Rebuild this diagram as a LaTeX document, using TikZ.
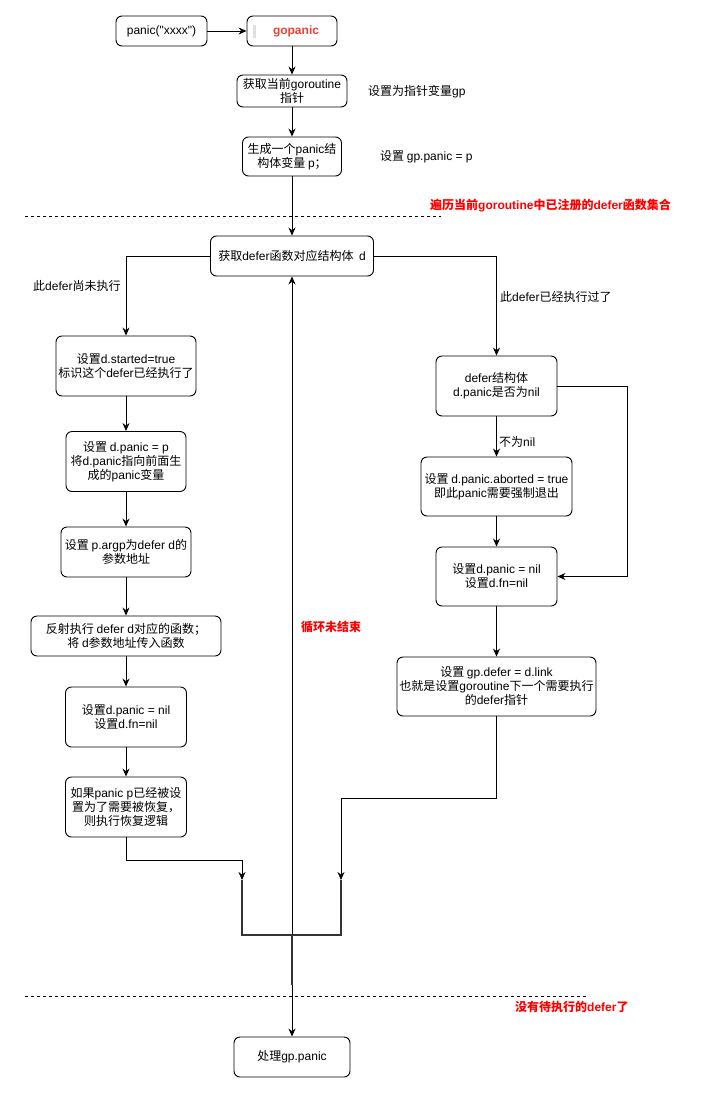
\documentclass[tikz,border=0pt]{standalone}
\usepackage{fontspec}
\setmainfont{Liberation Sans}
\newfontfamily\cjkfam{Noto Sans CJK SC}
\newfontfamily\latfam{Liberation Sans}
\XeTeXinterchartokenstate=1
\newXeTeXintercharclass\cjkcls
\makeatletter
\count@="3000
\loop\XeTeXcharclass\count@=\cjkcls\ifnum\count@<"303F \advance\count@ 1 \repeat
\count@="4E00
\loop\XeTeXcharclass\count@=\cjkcls\ifnum\count@<"9FFF \advance\count@ 1 \repeat
\count@="FF00
\loop\XeTeXcharclass\count@=\cjkcls\ifnum\count@<"FFEF \advance\count@ 1 \repeat
\makeatother
\XeTeXinterchartoks 0 \cjkcls = {\cjkfam}
\XeTeXinterchartoks 4095 \cjkcls = {\cjkfam}
\XeTeXinterchartoks \cjkcls 0 = {\latfam}
\XeTeXinterchartoks 4095 0 = {\latfam}
\newcommand\fs{\fontsize{12}{14}\selectfont}
\definecolor{gored}{RGB}{234,67,53}
\usetikzlibrary{arrows.meta}
\begin{document}
\begin{tikzpicture}[x=1pt,y=-1pt,
  box/.style={draw, rounded corners=6pt, line width=0.9pt, align=center, inner sep=0pt, font=\fs},
  lab/.style={font=\fs, inner sep=0pt, anchor=west},
  redlab/.style={font=\fs\bfseries, text=red, inner sep=0pt, anchor=west},
  arr/.style={-{Stealth[length=8pt,width=7pt]}, line width=0.9pt},
  dline/.style={line width=0.8pt, dash pattern=on 3pt off 3pt},
  brk/.style={line width=2.5pt, draw=black!80}
]
\useasboundingbox (0,0) rectangle (723,1093);

% top chain
\node[box, minimum width=91pt, minimum height=30pt] (panic) at (161.5,31) {panic("xxxx")};
\node[box, minimum width=90pt, minimum height=30pt, text=gored, font=\fs\bfseries] (gopanic) at (292,31) {\hspace{8pt}gopanic};
\fill[gray!25] (253,25) rectangle (256,38);
\node[box, minimum width=110pt, minimum height=32pt] (gor) at (292,91) {获取当前goroutine\\指针};
\node[lab] (gorlab) at (368,92) {设置为指针变量gp};
\node[box, minimum width=99pt, minimum height=39pt] (genp) at (292,156.5) {生成一个panic结\\构体变量 p；};
\node[lab] (genplab) at (380,157) {设置 gp.panic = p};

\draw[dline] (25,216) -- (441,216);
\node[redlab] (loopall) at (430,206) {遍历当前goroutine中已注册的defer函数集合};

\node[box, minimum width=163pt, minimum height=40pt] (getd) at (292,256) {获取defer函数对应结构体\ \ d};

% left column
\node[box, minimum width=140pt, minimum height=60pt] (L1) at (126,366) {设置d.started=true\\标识这个defer已经执行了};
\node[box, minimum width=120pt, minimum height=60pt] (L2) at (126,461.5) {设置 d.panic = p\\将d.panic指向前面生\\成的panic变量};
\node[box, minimum width=130pt, minimum height=50pt] (L3) at (126,552) {设置 p.argp为defer d的\\参数地址};
\node[box, minimum width=190pt, minimum height=40pt] (L4) at (126,636) {反射执行 defer d对应的函数；\\将 d参数地址传入函数};
\node[box, minimum width=121pt, minimum height=60pt] (L5) at (126,717) {设置d.panic = nil\\设置d.fn=nil};
\node[box, minimum width=121pt, minimum height=60pt] (L6) at (126,807) {如果panic p已经被设\\置为了需要被恢复，\\则执行恢复逻辑};
\node[lab] (llab) at (33,286) {此defer尚未执行};

% right column
\node[box, minimum width=121pt, minimum height=60pt] (R1) at (496.5,386) {defer结构体\\d.panic是否为nil};
\node[box, minimum width=151pt, minimum height=59pt] (R2) at (496.5,486.5) {设置 d.panic.aborted = true\\即此panic需要强制退出};
\node[box, minimum width=121pt, minimum height=59pt] (R3) at (496.5,576.5) {设置d.panic = nil\\设置d.fn=nil};
\node[box, minimum width=199pt, minimum height=59pt] (R4) at (496.5,686.5) {设置 gp.defer = d.link\\也就是设置goroutine下一个需要执行\\的defer指针};
\node[lab] (rlab) at (500,297) {此defer已经执行过了};
\node[lab] (nnil) at (499,442) {不为nil};

\node[font=\fs\bfseries, text=red, inner sep=0pt] (loopno) at (331,627) {循环未结束};

\draw[dline] (25,996) -- (588,996);
\node[redlab] (nodefer) at (515,1007) {没有待执行的defer了};

\node[box, minimum width=116pt, minimum height=40pt] (final) at (292,1057) {处理gp.panic};

\coordinate (jL) at (242,880);
\coordinate (jR) at (341,880);
\coordinate (jM) at (292,935);
\coordinate (jB) at (292,985);

% connectors
\draw[arr] (panic) -- (gopanic);
\draw[arr] (gopanic) -- (gor);
\draw[arr] (gor) -- (genp);
\draw[arr] (genp) -- (getd);
\draw[arr] (getd.west) -| (L1.north);
\draw[arr] (getd.east) -| (R1.north);
\draw[arr] (L1) -- (L2);
\draw[arr] (L2) -- (L3);
\draw[arr] (L3) -- (L4);
\draw[arr] (L4) -- (L5);
\draw[arr] (L5) -- (L6);
\draw[arr] (L6.south) -- ++(0,23) -| (jL);
\draw[arr] (R1) -- (R2);
\draw[arr] (R2) -- (R3);
\draw[arr] (R3) -- (R4);
\draw[arr] (R1.east) -- ++(70,0) |- (R3.east);
\draw[arr] (R4.south) -- ++(0,82) -| (jR);
\draw[arr] (jB) -- (getd.south);
\draw[arr] (jB) -- (final.north);
\draw[brk] (jL) |- (jM) -| (jR);
\draw[brk] (jM) -- (jB);
\end{tikzpicture}
\end{document}
